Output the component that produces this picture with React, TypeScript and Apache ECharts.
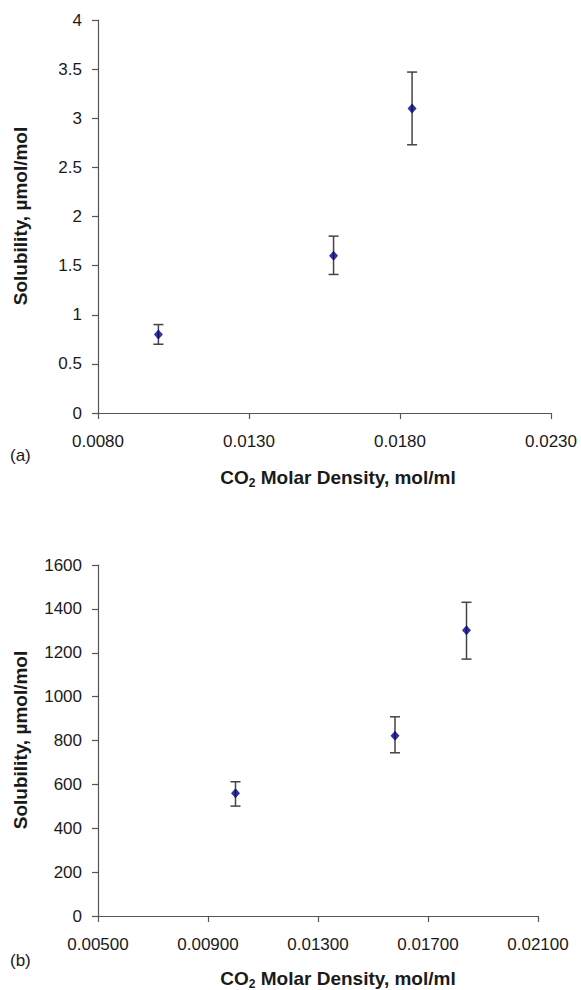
import React, { useEffect, useRef } from "react";
import * as echarts from "echarts";

// Panel (a)
const densityA = [0.0100, 0.0158, 0.0184];
const solubilityA = [0.80, 1.60, 3.10];
const lowA = [0.70, 1.41, 2.73];
const highA = [0.90, 1.80, 3.47];
const xTicksA = [0.008, 0.013, 0.018, 0.023];

// Panel (b)
const densityB = [0.0100, 0.0158, 0.0184];
const solubilityB = [560, 822, 1303];
const lowB = [501, 744, 1171];
const highB = [612, 908, 1430];
const xTicksB = [0.005, 0.009, 0.013, 0.017, 0.021];

const FONT = "'Liberation Sans', Arial, Helvetica, sans-serif";
const AXIS_COLOR = "#555";
const LABEL_COLOR = "#1a1a1a";

function errorRender(params: any, api: any) {
  const x = api.value(0);
  const lo = api.coord([x, api.value(1)]);
  const hi = api.coord([x, api.value(2)]);
  const hw = 5;
  const style = { stroke: "#444", lineWidth: 1.5 };
  return {
    type: "group",
    children: [
      { type: "line", shape: { x1: lo[0], y1: lo[1], x2: hi[0], y2: hi[1] }, style },
      { type: "line", shape: { x1: lo[0] - hw, y1: lo[1], x2: lo[0] + hw, y2: lo[1] }, style },
      { type: "line", shape: { x1: hi[0] - hw, y1: hi[1], x2: hi[0] + hw, y2: hi[1] }, style },
    ],
  };
}

function xAxisOf(gridIndex: number, min: number, max: number, ticks: number[], digits: number) {
  return {
    gridIndex,
    type: "value",
    min,
    max,
    splitLine: { show: false },
    axisLine: { show: true, onZero: false, lineStyle: { color: AXIS_COLOR, width: 1.2 } },
    axisTick: { show: true, length: 6, customValues: ticks, lineStyle: { color: AXIS_COLOR, width: 1.2 } },
    axisLabel: {
      customValues: ticks,
      formatter: (v: number) => v.toFixed(digits),
      fontSize: 17,
      color: LABEL_COLOR,
      fontFamily: FONT,
      margin: 20,
      showMinLabel: true,
      showMaxLabel: true,
    },
  };
}

function yAxisOf(gridIndex: number, min: number, max: number, interval: number) {
  return {
    gridIndex,
    type: "value",
    min,
    max,
    interval,
    splitLine: { show: false },
    axisLine: { show: true, lineStyle: { color: AXIS_COLOR, width: 1.2 } },
    axisTick: { show: true, length: 6, lineStyle: { color: AXIS_COLOR, width: 1.2 } },
    axisLabel: {
      fontSize: 17,
      color: LABEL_COLOR,
      fontFamily: FONT,
      margin: 16,
      formatter: (v: number) => String(v),
    },
  };
}

function xTitle(x: number, y: number) {
  return {
    type: "text",
    x,
    y,
    style: {
      text: "{a|CO}{s|2}{a| Molar Density, mol/ml}",
      align: "center",
      verticalAlign: "middle",
      fill: LABEL_COLOR,
      rich: {
        a: { fontSize: 19, fontWeight: "bold", fontFamily: FONT, lineHeight: 24, fill: LABEL_COLOR },
        s: { fontSize: 12, fontWeight: "bold", fontFamily: FONT, lineHeight: 12, verticalAlign: "bottom", fill: LABEL_COLOR },
      },
    },
  };
}

function yTitle(x: number, y: number) {
  return {
    type: "text",
    x,
    y,
    rotation: Math.PI / 2,
    style: {
      text: "Solubility, µmol/mol",
      align: "center",
      verticalAlign: "middle",
      fontSize: 19,
      fontWeight: "bold",
      fontFamily: FONT,
      fill: LABEL_COLOR,
    },
  };
}

function panelLabel(text: string, x: number, y: number) {
  return {
    type: "text",
    x,
    y,
    style: { text, fontSize: 17, fontFamily: FONT, fill: LABEL_COLOR, align: "left", verticalAlign: "middle" },
  };
}

export default function App() {
  const ref = useRef<HTMLDivElement>(null);
  useEffect(() => {
    document.body.style.margin = "0";
    const chart = echarts.init(ref.current!, null, { renderer: "svg" });
    const scatterStyle = { color: "#000080" };
    chart.setOption({
      animation: false,
      backgroundColor: "#ffffff",
      textStyle: { fontFamily: FONT },
      grid: [
        { left: 98, top: 20, width: 453, height: 393 },
        { left: 98, top: 565, width: 440, height: 351 },
      ],
      xAxis: [xAxisOf(0, 0.008, 0.023, xTicksA, 4), xAxisOf(1, 0.005, 0.021, xTicksB, 5)],
      yAxis: [yAxisOf(0, 0, 4, 0.5), yAxisOf(1, 0, 1600, 200)],
      series: [
        {
          type: "custom",
          xAxisIndex: 0,
          yAxisIndex: 0,
          renderItem: errorRender,
          data: densityA.map((x, i) => [x, lowA[i], highA[i]]),
          z: 2,
        },
        {
          type: "scatter",
          xAxisIndex: 0,
          yAxisIndex: 0,
          symbol: "diamond",
          symbolSize: [9, 10],
          itemStyle: scatterStyle,
          data: densityA.map((x, i) => [x, solubilityA[i]]),
          z: 3,
        },
        {
          type: "custom",
          xAxisIndex: 1,
          yAxisIndex: 1,
          renderItem: errorRender,
          data: densityB.map((x, i) => [x, lowB[i], highB[i]]),
          z: 2,
        },
        {
          type: "scatter",
          xAxisIndex: 1,
          yAxisIndex: 1,
          symbol: "diamond",
          symbolSize: [9, 10],
          itemStyle: scatterStyle,
          data: densityB.map((x, i) => [x, solubilityB[i]]),
          z: 3,
        },
      ],
      graphic: [
        yTitle(20, 216),
        xTitle(338, 477),
        panelLabel("(a)", 10, 455),
        yTitle(20, 740),
        xTitle(338, 978),
        panelLabel("(b)", 10, 960),
      ],
    });
    return () => chart.dispose();
  }, []);
  return (
    <div
      ref={ref}
      style={{ position: "absolute", left: 0, top: 0, width: 581, height: 990 }}
    />
  );
}
